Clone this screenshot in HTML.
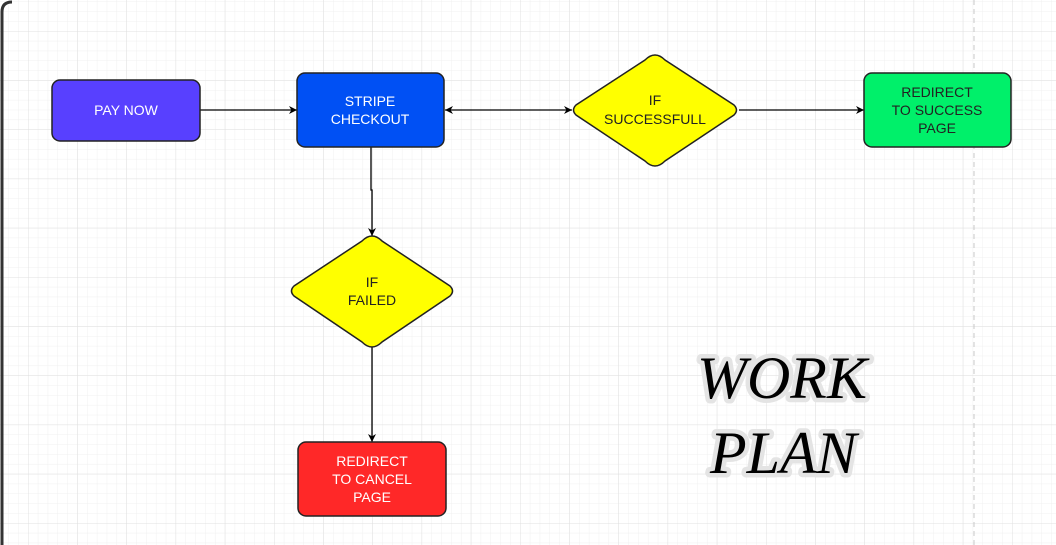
<!DOCTYPE html>
<html><head><meta charset="utf-8"><style>
html,body{margin:0;padding:0;width:1056px;height:545px;overflow:hidden;background:#fff}
svg{display:block}
text{font-family:"Liberation Sans",Arial,sans-serif;font-size:14px;text-anchor:middle}
.t{font-family:"Liberation Serif",serif;font-style:italic;font-size:60px;text-anchor:start;fill:#000;stroke:#e4e4e4;stroke-width:9px;paint-order:stroke;stroke-linejoin:round}
</style></head><body>
<svg width="1056" height="545" viewBox="0 0 1056 545">
<defs>
<pattern id="mi" x="28" y="31" width="9.84" height="9.84" patternUnits="userSpaceOnUse">
<path d="M0 0H9.84M0 0V9.84" stroke="#f0f0f0" stroke-width="1" fill="none"/>
</pattern>
<pattern id="ma" x="28" y="31" width="49.2" height="49.2" patternUnits="userSpaceOnUse">
<path d="M0 0H49.2M0 0V49.2" stroke="#e0e0e0" stroke-width="1" fill="none"/>
</pattern>
<marker id="ar" viewBox="0 0 10 10" refX="10" refY="5" markerWidth="8" markerHeight="8" orient="auto-start-reverse" markerUnits="userSpaceOnUse">
<path d="M0 0L10 5L0 10L3 5Z" fill="#000"/>
</marker>
</defs>
<rect width="1056" height="545" fill="url(#mi)"/>
<rect width="1056" height="545" fill="url(#ma)"/>
<path d="M2 545V12Q2 2 12 2" stroke="#333" stroke-width="3" fill="none"/>
<line x1="974" y1="0" x2="974" y2="545" stroke="#c8c8c8" stroke-dasharray="5,4"/>
<g stroke="#000" stroke-width="1.3" fill="none">
<line x1="200" y1="110" x2="297" y2="110" marker-end="url(#ar)"/>
<line x1="445" y1="110" x2="572" y2="110" marker-start="url(#ar)" marker-end="url(#ar)"/>
<line x1="739" y1="110" x2="864" y2="110" marker-end="url(#ar)"/>
<path d="M371 147V190H372V236" marker-end="url(#ar)"/>
<line x1="372" y1="347" x2="372" y2="442" marker-end="url(#ar)"/>
</g>
<g stroke="#222" stroke-width="1.5">
<rect x="52" y="80" width="148" height="61" rx="8" fill="#5840ff"/>
<rect x="297" y="73" width="147" height="74" rx="8" fill="#0050f4"/>
<path d="M655 55Q660 55 665 60L734 105Q739 110 734 115L665 161Q660 166 655 166Q650 166 645 161L576 115Q571 110 576 105L645 60Q650 55 655 55Z" fill="#ffff00"/>
<rect x="864" y="73" width="147" height="74" rx="8" fill="#00f06a"/>
<path d="M372 236Q377 236 382 241L450 286Q455 291 450 296L382 342Q377 347 372 347Q367 347 362 342L294 296Q289 291 294 286L362 241Q367 236 372 236Z" fill="#ffff00"/>
<rect x="298" y="442" width="148" height="74" rx="8" fill="#ff2828"/>
</g>
<g fill="#fff">
<text x="126" y="115">PAY NOW</text>
<text x="370" y="106">STRIPE</text>
<text x="370" y="124">CHECKOUT</text>
<text x="372" y="466">REDIRECT</text>
<text x="372" y="484">TO CANCEL</text>
<text x="372" y="502">PAGE</text>
</g>
<g fill="#222">
<text x="655" y="105">IF</text>
<text x="655" y="124">SUCCESSFULL</text>
<text x="937" y="97">REDIRECT</text>
<text x="937" y="115">TO SUCCESS</text>
<text x="937" y="133">PAGE</text>
<text x="372" y="287">IF</text>
<text x="372" y="305">FAILED</text>
</g>
<text class="t" x="697" y="398">WORK</text>
<text class="t" x="710" y="473">PLAN</text>
</svg>
</body></html>
